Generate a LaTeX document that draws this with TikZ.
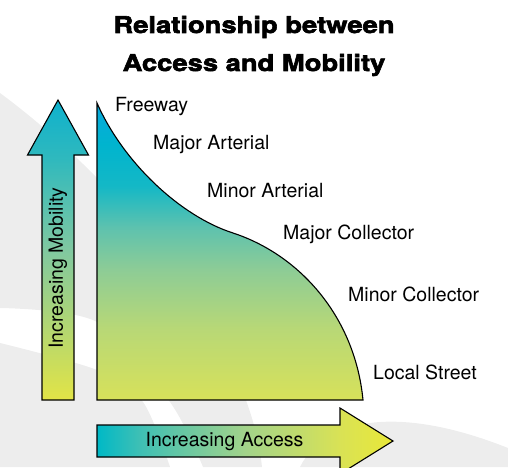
\documentclass[tikz,border=0pt]{standalone}
\usepackage{fontspec}
\setmainfont{TeX Gyre Heros}
\newfontfamily\titrefont[FakeStretch=1.19,FakeBold=2.6]{TeX Gyre Heros}
\usetikzlibrary{calc}
\definecolor{grisfond}{HTML}{EDEDED}
% degrade de la zone
\definecolor{routeA}{HTML}{D7E15A}
\definecolor{routeB}{HTML}{B8D876}
\definecolor{routeC}{HTML}{8DCC96}
\definecolor{routeD}{HTML}{5EC2AE}
\definecolor{routeE}{HTML}{14B8C6}
\definecolor{routeF}{HTML}{00B4CE}
\definecolor{routeG}{HTML}{08A9DE}
\pgfdeclareverticalshading{routeshade}{100bp}{color(0bp)=(routeA); color(25bp)=(routeA);
  color(37bp)=(routeB); color(47bp)=(routeC); color(54bp)=(routeD); color(61bp)=(routeE);
  color(68bp)=(routeF); color(75bp)=(routeG); color(100bp)=(routeG)}
% fleche verticale
\pgfdeclareverticalshading{mobshade}{100bp}{color(0bp)=(rgb,255:red,226;green,228;blue,70);
  color(25bp)=(rgb,255:red,226;green,228;blue,70); color(50bp)=(rgb,255:red,128;green,200;blue,160);
  color(65bp)=(rgb,255:red,48;green,185;blue,189); color(75bp)=(rgb,255:red,14;green,177;blue,205);
  color(100bp)=(rgb,255:red,14;green,177;blue,205)}
% fleche horizontale
\pgfdeclarehorizontalshading{accshade}{100bp}{color(0bp)=(rgb,255:red,0;green,185;blue,198);
  color(25bp)=(rgb,255:red,0;green,185;blue,198); color(32bp)=(rgb,255:red,61;green,191;blue,181);
  color(50bp)=(rgb,255:red,162;green,211;blue,138); color(66bp)=(rgb,255:red,217;green,226;blue,85);
  color(75bp)=(rgb,255:red,233;green,232;blue,56); color(100bp)=(rgb,255:red,233;green,232;blue,56)}

\begin{document}
\begin{tikzpicture}[x=1pt,y=1pt,
    contour/.style={draw=black,line width=1.1pt,line join=miter,shade},
    etiquette/.style={inner sep=0pt,anchor=base west,font=\fontsize{19.5}{22}\selectfont},
    titre/.style={inner sep=0pt,anchor=base,font=\titrefont\bfseries\fontsize{23}{27}\selectfont}]
  \useasboundingbox (0,0) rectangle (508,467);
  %FOND gris
  \fill[grisfond] (0,374) .. controls (130,278) and (250,120) .. (262,0)
    -- plot[smooth] coordinates {(203,0) (170,65) (97,145) (0,159)} -- cycle;
  \fill[grisfond] plot[smooth] coordinates {(0,124) (97,97) (143,65) (170,0)} -- (0,0) -- cycle;
  \fill[grisfond] (300,0) .. controls (325,50) and (400,62) .. (508,19) -- (508,0) -- cycle;
  %TITRE
  \node[titre] (titre1) at (254,434) {Relationship between};
  \node[titre] (titre2) at (254,396) {Access and Mobility};
  %ZONE acces/mobilite
  \coordinate (coin) at (97,67);
  \coordinate (sommet) at (97,364);
  \coordinate (epaule) at (233,234);
  \coordinate (pied) at (363,67);
  \path[contour,shading=routeshade] (coin) -- (sommet) .. controls (123,305) and (180,251) .. (epaule)
    .. controls (300,212) and (355,150) .. (pied) -- cycle;
  %fleche mobilite
  \path[contour,shading=mobshade] (42,67) -- (42,312) -- (27.5,312) -- (58,367)
    -- (88.5,312) -- (74,312) -- (74,67) -- cycle;
  \node[rotate=90,font=\fontsize{19.5}{22}\selectfont] (mobilite) at (58,199) {Increasing Mobility};
  %fleche acces
  \path[contour,shading=accshade] (97,10) -- (97,42) -- (340,42) -- (340,59) -- (393,26)
    -- (340,-7) -- (340,10) -- cycle;
  \node[font=\fontsize{19.5}{22}\selectfont] (acces) at (224.5,25) {Increasing Access};
  %CLASSES de routes
  \node[etiquette] (freeway) at (115,356) {Freeway};
  \node[etiquette] (majart) at (153,318) {Major Arterial};
  \node[etiquette] (minart) at (207,270) {Minor Arterial};
  \node[etiquette] (majcol) at (283,228) {Major Collector};
  \node[etiquette] (mincol) at (348,166) {Minor Collector};
  \node[etiquette] (local) at (373,88) {Local Street};
\end{tikzpicture}
\end{document}
